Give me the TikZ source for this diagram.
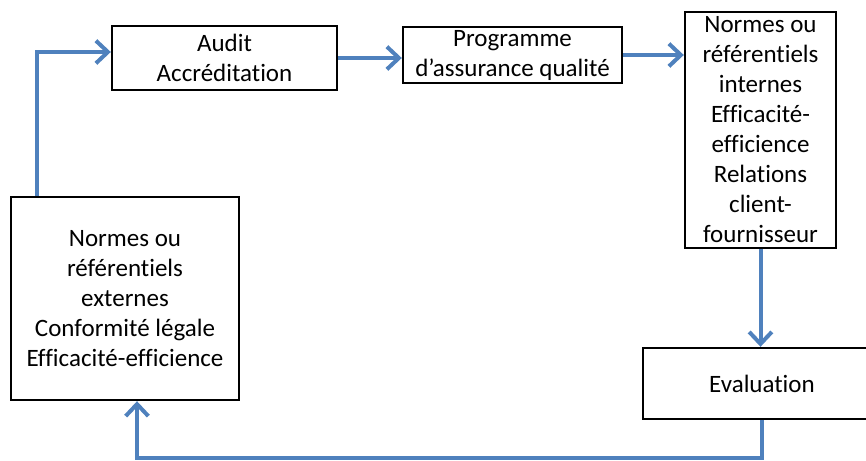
\documentclass[tikz,border=0pt]{standalone}
\usepackage{fontspec}
\setmainfont{Carlito}[Ligatures=NoCommon]
\usetikzlibrary{arrows.meta}
\definecolor{flowblue}{RGB}{79,129,189}

\begin{document}
\begin{tikzpicture}[x=0.75pt, y=-0.75pt]
      \clip (0,0) rectangle (866,460);
      \tikzstyle{every node} = [draw, line width=1.8pt, inner sep=0pt, align=center,
        font=\fontsize{18.75}{22.5}\selectfont]
      \tikzstyle{flow} = [draw=flowblue, line width=3pt, -{Straight Barb[length=9pt,width=17pt]}]

      \node[minimum width=168.75pt, minimum height=48pt] (audit) at (224.5,58) {Audit\\Accréditation};
      \node[minimum width=164.25pt, minimum height=42pt] (prog) at (512.5,55) {Programme\\d’assurance qualité};
      \node[minimum width=113.25pt, minimum height=177pt] (intern) at (760.5,130)
        {Normes ou\\référentiels\\internes\\Efficacité-\\efficience\\Relations\\client-\\fournisseur};
      \node[minimum width=178.5pt, minimum height=53.25pt] (eval) at (762,383.5) {Evaluation};
      \node[minimum width=171pt, minimum height=152.25pt] (ext) at (125,298.5)
        {Normes ou\\référentiels\\externes\\Conformité légale\\Efficacité-efficience};

      \coordinate (up) at (37,52);
      \coordinate (back) at (137,458);

      \path
      (audit.east) edge[flow] (audit.east -| prog.west)
      (prog.east) edge[flow] (prog.east -| intern.west)
      (intern.south) edge[flow] (intern.south |- eval.north);
      \draw[flow] (eval.south) |- (back) -- (back |- ext.south);
      \draw[flow] (up |- ext.north) |- (audit.west |- up);
    \end{tikzpicture}
\end{document}
